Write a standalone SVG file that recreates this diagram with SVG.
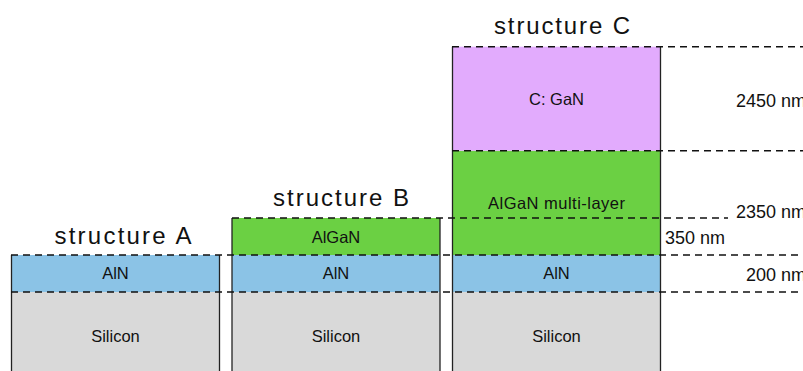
<svg xmlns="http://www.w3.org/2000/svg" width="803" height="371" viewBox="0 0 803 371">
<style>
text{font-family:"Liberation Sans",Arial,sans-serif;fill:#111}
.t{font-size:24px;text-anchor:middle}
.l{font-size:16.5px;text-anchor:middle}
.d{font-size:18px}
.si{fill:#d9d9d9}
.aln{fill:#8bc3e6}
.gr{fill:#6bd043}
.pu{fill:#e2abfd}
.side{stroke:#222;stroke-width:1.3}
.dash{stroke:#111;stroke-width:1.5;stroke-dasharray:7 5;fill:none}
</style>
<rect width="803" height="371" fill="#fff"/>
<g id="structureA">
<text class="t" x="123" y="244" textLength="137" lengthAdjust="spacing">structure A</text>
<g id="A-silicon"><rect class="si" x="11.5" y="292" width="208" height="79"/><text class="l" x="115.5" y="342">Silicon</text></g>
<g id="A-aln"><rect class="aln" x="11.5" y="255" width="208" height="37"/><text class="l" x="115.5" y="279">AlN</text></g>
<line class="side" x1="11.5" y1="255" x2="11.5" y2="371"/>
<line class="side" x1="219.5" y1="255" x2="219.5" y2="371"/>
</g>
<g id="structureB">
<text class="t" x="341" y="206" textLength="136" lengthAdjust="spacing">structure B</text>
<g id="B-silicon"><rect class="si" x="232" y="292" width="208" height="79"/><text class="l" x="336" y="342">Silicon</text></g>
<g id="B-aln"><rect class="aln" x="232" y="255" width="208" height="37"/><text class="l" x="336" y="279">AlN</text></g>
<g id="B-algan"><rect class="gr" x="232" y="218" width="208" height="37"/><text class="l" x="336" y="243">AlGaN</text></g>
<line class="side" x1="232" y1="218" x2="232" y2="371"/>
<line class="side" x1="440" y1="218" x2="440" y2="371"/>
</g>
<g id="structureC">
<text class="t" x="562" y="34" textLength="136" lengthAdjust="spacing">structure C</text>
<g id="C-silicon"><rect class="si" x="452.5" y="292" width="208" height="79"/><text class="l" x="556.5" y="342">Silicon</text></g>
<g id="C-aln"><rect class="aln" x="452.5" y="255" width="208" height="37"/><text class="l" x="556.5" y="279">AlN</text></g>
<g id="C-algan"><rect class="gr" x="452.5" y="150.7" width="208" height="104.3"/><text class="l" x="556.5" y="209" textLength="137" lengthAdjust="spacing">AlGaN multi-layer</text></g>
<g id="C-gan"><rect class="pu" x="452.5" y="46.7" width="208" height="104"/><text class="l" x="556.5" y="105">C: GaN</text></g>
<line class="side" x1="452.5" y1="46.7" x2="452.5" y2="371"/>
<line class="side" x1="660.5" y1="46.7" x2="660.5" y2="371"/>
</g>
<g id="connectors">
<line class="dash" x1="452" y1="46.7" x2="803" y2="46.7"/>
<line class="dash" x1="452" y1="150.7" x2="803" y2="150.7"/>
<line class="dash" x1="232" y1="218" x2="728" y2="218"/>
<line class="dash" x1="11" y1="255" x2="803" y2="255"/>
<line class="dash" x1="11" y1="292" x2="803" y2="292"/>
</g>
<g id="dimensions">
<text class="d" x="736" y="106.5">2450 nm</text>
<text class="d" x="736" y="218">2350 nm</text>
<text class="d" x="665" y="243.5">350 nm</text>
<text class="d" x="746" y="280.5">200 nm</text>
</g>
</svg>
